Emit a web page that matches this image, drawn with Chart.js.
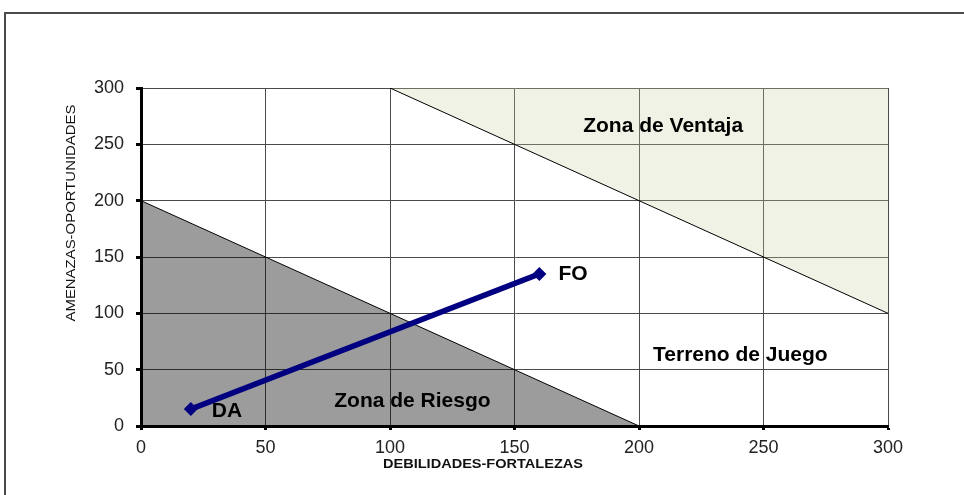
<!DOCTYPE html>
<html>
<head>
<meta charset="utf-8">
<script src="https://cdn.jsdelivr.net/npm/chart.js@4"></script>
<style>
  html, body { margin: 0; padding: 0; background: #fff; }
  #wrap { width: 964px; height: 495px; position: relative; }
</style>
</head>
<body>
<div id="wrap"><canvas id="c" width="964" height="495"></canvas></div>
<script>
// ---- data ----
const xTicks = [0, 50, 100, 150, 200, 250, 300];
const yTicks = [0, 50, 100, 150, 200, 250, 300];
const strategyPoints = [ { x: 20, y: 15 }, { x: 160, y: 135 } ];
const strategyLabels = ['DA', 'FO'];
const riskBoundary = [ { x: 0, y: 200 }, { x: 200, y: 0 } ];
const advantageBoundary = [ { x: 100, y: 300 }, { x: 300, y: 100 } ];
const zoneNames = ['Zona de Ventaja', 'Terreno de Juego', 'Zona de Riesgo'];
const zoneAnchors = [ { x: 209.7, y: 266 }, { x: 240.7, y: 63 }, { x: 109, y: 22 } ];
const pointLabelAnchors = [ { x: 34.5, y: 13.5 }, { x: 173.5, y: 134.5 } ];
const xTitle = 'DEBILIDADES-FORTALEZAS';
const yTitle = 'AMENAZAS-OPORTUNIDADES';

const FONT = '"Liberation Sans", Arial, sans-serif';

function stretchedText(ctx, text, cx, cy, font, targetWidth, angle) {
  ctx.save();
  ctx.font = font;
  const w = ctx.measureText(text).width;
  ctx.translate(cx, cy);
  if (angle) ctx.rotate(angle);
  ctx.scale(targetWidth / w, 1);
  ctx.fillText(text, 0, 0);
  ctx.restore();
}

const decor = {
  id: 'decor',
  beforeDraw(chart) {
    const ctx = chart.ctx;
    ctx.save();
    ctx.fillStyle = '#fff';
    ctx.fillRect(0, 0, chart.width, chart.height);
    ctx.strokeStyle = '#4a4a4a';
    ctx.lineWidth = 2;
    ctx.beginPath();
    ctx.moveTo(5, 495);
    ctx.lineTo(5, 13);
    ctx.lineTo(964, 13);
    ctx.stroke();
    ctx.restore();
  },
  afterDatasetsDraw(chart) {
    const ctx = chart.ctx;
    const xs = chart.scales.x, ys = chart.scales.y;
    ctx.save();
    ctx.fillStyle = '#000';
    ctx.textAlign = 'center';
    ctx.textBaseline = 'middle';
    ctx.font = 'bold 21px ' + FONT;
    zoneNames.forEach((t, i) => {
      ctx.fillText(t, xs.getPixelForValue(zoneAnchors[i].x), ys.getPixelForValue(zoneAnchors[i].y));
    });
    strategyLabels.forEach((t, i) => {
      ctx.fillText(t, xs.getPixelForValue(pointLabelAnchors[i].x), ys.getPixelForValue(pointLabelAnchors[i].y));
    });
    // axis titles
    ctx.fillStyle = '#111';
    stretchedText(ctx, xTitle, 483, 465, 'bold 12.5px ' + FONT, 200, 0);
    stretchedText(ctx, yTitle, 71, 213, '13.5px ' + FONT, 217, -Math.PI / 2);
    ctx.restore();
  }
};

new Chart(document.getElementById('c'), {
  type: 'scatter',
  data: {
    datasets: [
      {
        label: 'riesgo',
        data: riskBoundary,
        showLine: true,
        fill: 'origin',
        backgroundColor: 'rgba(0,0,0,0.39)',
        borderColor: '#000',
        borderWidth: 1,
        pointRadius: 0,
        order: 3
      },
      {
        label: 'ventaja',
        data: advantageBoundary,
        showLine: true,
        fill: 'end',
        backgroundColor: 'rgba(200,210,160,0.28)',
        borderColor: '#000',
        borderWidth: 1,
        pointRadius: 0,
        order: 2
      },
      {
        label: 'estrategia',
        data: strategyPoints,
        showLine: true,
        borderColor: '#000080',
        backgroundColor: '#000080',
        borderWidth: 5.5,
        pointStyle: 'rectRot',
        pointRadius: 7,
        pointBorderWidth: 0,
        order: 1
      }
    ]
  },
  options: {
    responsive: false,
    animation: false,
    devicePixelRatio: 1,
    layout: { padding: { left: 0, top: 88, right: 76, bottom: 0 } },
    plugins: { legend: { display: false }, tooltip: { enabled: false } },
    scales: {
      x: {
        type: 'linear',
        min: 0, max: 300,
        afterBuildTicks(s) { s.ticks = xTicks.map(v => ({ value: v })); },
        afterFit(s) { s.height = 69; },
        grid: { color: '#4a4a4a', lineWidth: 1, tickColor: '#000', tickWidth: 3, tickLength: 4 },
        border: { color: '#000', width: 3 },
        ticks: { color: '#222', font: { family: FONT, size: 18 }, padding: 7, maxRotation: 0 }
      },
      y: {
        type: 'linear',
        min: 0, max: 300,
        afterBuildTicks(s) { s.ticks = yTicks.map(v => ({ value: v })); },
        afterFit(s) { s.width = 141; },
        grid: { color: '#4a4a4a', lineWidth: 1, tickColor: '#000', tickWidth: 3, tickLength: 5 },
        border: { color: '#000', width: 3 },
        ticks: { color: '#222', font: { family: FONT, size: 18 }, padding: 12 }
      }
    }
  },
  plugins: [decor]
});
</script>
</body>
</html>
